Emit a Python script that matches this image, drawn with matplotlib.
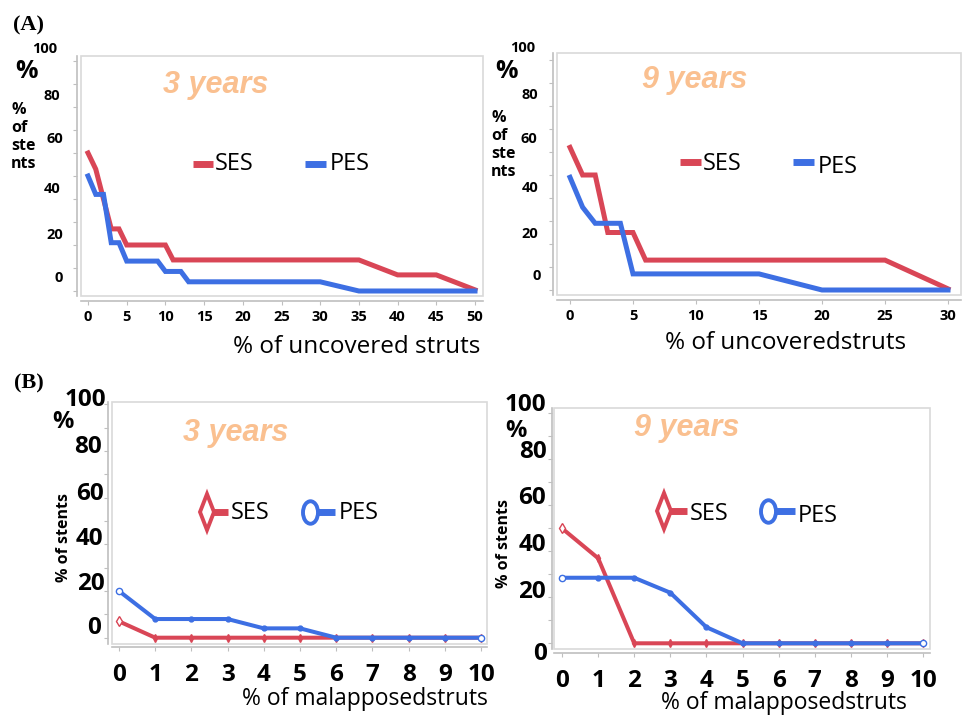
import matplotlib
matplotlib.use('Agg')
import matplotlib.pyplot as plt
from matplotlib.lines import Line2D
from matplotlib.patches import Rectangle
from matplotlib.markers import MarkerStyle
from matplotlib.transforms import Affine2D

# --- data ---
unc3_ses_x = [0, 1, 2, 3, 4, 5, 10, 11, 35, 40, 45, 50]
unc3_ses_y = [60, 53, 40, 27, 27, 20, 20, 13.5, 13.5, 7, 7, 0.5]
unc3_pes_x = [0, 1, 2, 3, 4, 5, 9, 10, 12, 13, 30, 35, 50]
unc3_pes_y = [50, 42, 42, 21, 21, 13, 13, 8.5, 8.5, 4, 4, 0, 0]

unc9_ses_x = [0, 1, 2, 3, 5, 6, 25, 30]
unc9_ses_y = [62, 50, 50, 25, 25, 13, 13, 0.5]
unc9_pes_x = [0, 1, 2, 4, 5, 15, 20, 30]
unc9_pes_y = [49, 36, 29, 29, 7, 7, 0, 0]

mal_x = list(range(11))
mal3_ses = [7, 0, 0, 0, 0, 0, 0, 0, 0, 0, 0]
mal3_pes = [20, 8, 8, 8, 4, 4, 0, 0, 0, 0, 0]
mal9_ses = [50, 37, 0, 0, 0, 0, 0, 0, 0, 0, 0]
mal9_pes = [28.5, 28.5, 28.5, 22, 7, 0, 0, 0, 0, 0, 0]

ytick_labels = ['100', '80', '60', '40', '20', '0']
y_minor = list(range(0, 101, 10))
series_names = ['SES', 'PES']

RED = '#D94656'
BLUE = '#3D6FE3'
PEACH = '#FAC090'
BOX = '#D9D9D9'
SPINE = '#BFBFBF'

W, H = 968, 716
fig = plt.figure(figsize=(W / 100, H / 100), dpi=100)
fig.patch.set_facecolor('white')


def fx(x):
    return x / W


def fy(y):
    return 1 - y / H


def txt(x, y, s, **kw):
    kw.setdefault('ha', 'center')
    kw.setdefault('va', 'center')
    fig.text(fx(x), fy(y), s, **kw)


# panel set-up: box in pixels, data origin in pixels and pixels per unit
def panel(box, x0, xppu, y0, yppu, xticks, left_out, bottom_out, tick_size, tick_pad):
    l, t, r, b = box
    ax = fig.add_axes([fx(l), fy(b), (r - l) / W, (b - t) / H])
    ax.set_xlim((l - x0) / xppu, (r - x0) / xppu)
    ax.set_ylim((y0 - b) / yppu, (y0 - t) / yppu)
    ax.add_patch(Rectangle((0, 0), 1, 1, transform=ax.transAxes, fill=False,
                           edgecolor=BOX, lw=1.2, clip_on=False, zorder=0))
    for s in ['top', 'right']:
        ax.spines[s].set_visible(False)
    ax.spines['left'].set_position(('outward', left_out * 0.72))
    ax.spines['bottom'].set_position(('outward', bottom_out * 0.72))
    for s in ['left', 'bottom']:
        ax.spines[s].set_color(SPINE)
        ax.spines[s].set_linewidth(1.2)
    ax.set_yticks(y_minor)
    ax.tick_params(axis='y', direction='out', length=3, color=SPINE, labelleft=False)
    ax.set_xticks(xticks)
    ax.tick_params(axis='x', direction='out', length=3, color=SPINE,
                   labelsize=tick_size, pad=tick_pad)
    for lbl in ax.get_xticklabels():
        lbl.set_fontfamily('Open Sans')
        lbl.set_fontweight('bold')
    return ax


def ylabels(xs, ys, size):
    for s, x, y in zip(ytick_labels, xs, ys):
        txt(x, y, s, fontsize=size, fontweight='bold', family='Open Sans')


def legend_entry(x0, x1, y, color, label, tx, ty, size, marker=None):
    fig.add_artist(Line2D([fx(x0), fx(x1)], [fy(y), fy(y)], color=color, lw=5,
                          solid_capstyle='butt'))
    if marker is not None:
        fig.add_artist(Line2D([fx(x0)], [fy(y)], marker=marker, markersize=18,
                              markerfacecolor='white', markeredgecolor=color,
                              markeredgewidth=2.8, linestyle='none'))
    txt(tx, ty, label, ha='left', fontsize=size, family='Open Sans')


diamond = MarkerStyle('D', transform=Affine2D().scale(0.38, 1.0))
ellipse = MarkerStyle('o', transform=Affine2D().scale(0.6, 0.9))

# ---------------- (A) uncovered struts ----------------
txt(29, 25, '(A)', fontsize=16, fontweight='bold', family='Liberation Serif')

ax = panel((81, 56, 483, 296), 88, 7.74, 291, 2.3, list(range(0, 51, 5)), 4, 5, 10.5, 3.5)
ax.plot(unc3_ses_x, unc3_ses_y, color=RED, lw=3.6, solid_joinstyle='miter')
ax.plot(unc3_pes_x, unc3_pes_y, color=BLUE, lw=3.6, solid_joinstyle='miter')
ylabels([45, 52, 54.5, 52, 54.5, 58.5], [49, 96, 139, 189, 235, 278], 10.5)
txt(26.5, 71, '%', fontsize=18, fontweight='bold', family='Open Sans')
txt(11, 137, '%\nof\nste\nnts', ha='left', fontsize=11.5, fontweight='bold',
    family='Open Sans', linespacing=1.15)
txt(357, 347, '% of uncovered struts', fontsize=17.5, family='Open Sans')
txt(216, 85, '3 years', fontsize=22, fontweight='bold', style='italic',
    family='Liberation Sans', color=PEACH)
legend_entry(193, 213, 164, RED, series_names[0], 215, 164, 17)
legend_entry(305, 326, 164, BLUE, series_names[1], 330, 164, 17)

ax = panel((557, 53, 961, 295), 570, 12.6, 290, 2.3, list(range(0, 31, 5)), 4, 5, 10.5, 3.5)
ax.plot(unc9_ses_x, unc9_ses_y, color=RED, lw=3.6, solid_joinstyle='miter')
ax.plot(unc9_pes_x, unc9_pes_y, color=BLUE, lw=3.6, solid_joinstyle='miter')
ylabels([523, 529.5, 528.5, 530, 530, 537], [48, 95, 139, 188, 234, 276], 10.5)
txt(507, 71, '%', fontsize=18, fontweight='bold', family='Open Sans')
txt(491, 145, '%\nof\nste\nnts', ha='left', fontsize=11.5, fontweight='bold',
    family='Open Sans', linespacing=1.15)
txt(786, 343, '% of uncoveredstruts', fontsize=17.5, family='Open Sans')
txt(695, 80, '9 years', fontsize=22, fontweight='bold', style='italic',
    family='Liberation Sans', color=PEACH)
legend_entry(680, 701, 162, RED, series_names[0], 703, 164, 17)
legend_entry(793, 814, 162, BLUE, series_names[1], 818, 167, 17)

# ---------------- (B) malapposed struts ----------------
txt(29, 383, '(B)', fontsize=16, fontweight='bold', family='Liberation Serif')

ax = panel((112, 402, 487, 644), 119, 36.2, 637.7, 2.334, mal_x, 4, 3, 17.5, 8.5)
ax.plot(mal_x, mal3_ses, color=RED, lw=2.9, marker='d', ms=4)
ax.plot(mal_x[0], mal3_ses[0], marker='d', ms=5, mfc='white', mec=RED, mew=1)
ax.plot(mal_x, mal3_pes, color=BLUE, lw=2.9, marker='o', ms=3.5)
ax.plot([mal_x[0], mal_x[-1]], [mal3_pes[0], mal3_pes[-1]], ls='none', marker='o', ms=4.5,
        mfc='white', mec=BLUE, mew=1, clip_on=False)
ylabels([85, 88, 90, 89, 90.5, 94.5], [400, 447, 494, 539, 584, 628], 17.5)
txt(62.5, 422, '%', fontsize=17, fontweight='bold', family='Open Sans')
txt(64, 538, '% of stents', rotation=90, fontsize=11.5, fontweight='bold', family='Open Sans')
txt(365, 699, '% of malapposedstruts', fontsize=16.5, family='Open Sans')
txt(236, 433, '3 years', fontsize=22, fontweight='bold', style='italic',
    family='Liberation Sans', color=PEACH)
legend_entry(207, 228, 512, RED, series_names[0], 231, 513, 17, marker=diamond)
legend_entry(310, 335, 512, BLUE, series_names[1], 339, 513, 17, marker=ellipse)

ax = panel((554, 408, 930, 649), 562, 36.1, 643.3, 2.3, mal_x, 2, 4, 17.5, 8.5)
ax.plot(mal_x, mal9_ses, color=RED, lw=2.9, marker='d', ms=4)
ax.plot(mal_x[0], mal9_ses[0], marker='d', ms=5, mfc='white', mec=RED, mew=1)
ax.plot(mal_x, mal9_pes, color=BLUE, lw=2.9, marker='o', ms=3.5)
ax.plot([mal_x[0], mal_x[-1]], [mal9_pes[0], mal9_pes[-1]], ls='none', marker='o', ms=4.5,
        mfc='white', mec=BLUE, mew=1, clip_on=False)
ylabels([525, 533, 532, 532, 532, 540], [405, 452, 498, 545, 592, 654], 17.5)
txt(516, 431, '%', fontsize=17, fontweight='bold', family='Open Sans')
txt(504, 543, '% of stents', rotation=90, fontsize=11.5, fontweight='bold', family='Open Sans')
txt(784, 703, '% of malapposedstruts', fontsize=16.5, family='Open Sans')
txt(687, 428, '9 years', fontsize=22, fontweight='bold', style='italic',
    family='Liberation Sans', color=PEACH)
legend_entry(664, 687, 511, RED, series_names[0], 690, 514, 17, marker=diamond)
legend_entry(768, 795, 511, BLUE, series_names[1], 798, 516, 17, marker=ellipse)

fig.savefig('out.png', dpi=100)
